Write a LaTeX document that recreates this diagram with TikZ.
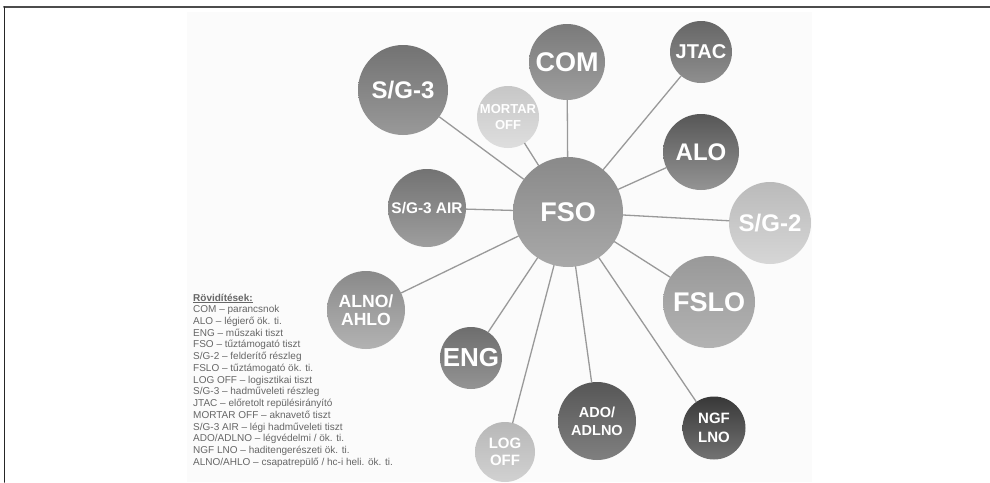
\documentclass[tikz,border=0pt]{standalone}
\usepackage{fontspec}
\setmainfont{Liberation Sans}
\newcommand\bsize[2]{\fontsize{#1pt}{#2pt}\selectfont}
\tikzset{
  bub/.style={circle, inner sep=0pt, text=white, align=center},
  link/.style={draw=black!40, line width=1.3pt},
  leg/.style={inner sep=0pt, text=black!60, font=\bsize{10}{11.7}},
}
\begin{document}
\begin{tikzpicture}[x=1pt,y=-1pt,line cap=round]
  \useasboundingbox (0,0) rectangle (990,482);
  % paper and frame
  \fill[black!1.5] (187,12) rectangle (812,482);
  \draw[black!70,line width=2pt] (4,7)--(990,7);
  \draw[black!85,line width=1.5pt] (4.5,7)--(4.5,482);
  % centre
  \node[bub, minimum size=110, top color=black!46, bottom color=black!34, font=\bfseries\bsize{27}{30}] (fso) at (568,212) {FSO};
  % outer circles
  \node[bub, minimum size=76, top color=black!52, bottom color=black!38, font=\bfseries\bsize{27}{30}] (com) at (567,62) {COM};
  \node[bub, minimum size=90, top color=black!55, bottom color=black!40, font=\bfseries\bsize{24}{27}] (sgiii) at (403,90) {S/G-3};
  \node[bub, minimum size=62, top color=black!22, bottom color=black!13, font=\bfseries\bsize{13}{16}] (mortar) at (508,117) {MORTAR\\OFF};
  \node[bub, minimum size=78, top color=black!55, bottom color=black!38, font=\bfseries\bsize{15.4}{18}] (sgair) at (427,208) {S/G-3 AIR};
  \node[bub, minimum size=62, top color=black!60, bottom color=black!44, font=\bfseries\bsize{20}{23}] (jtac) at (701,52) {JTAC};
  \node[bub, minimum size=76, top color=black!66, bottom color=black!42, font=\bfseries\bsize{24}{27}] (alo) at (701,152) {ALO};
  \node[bub, minimum size=82, top color=black!27, bottom color=black!16, font=\bfseries\bsize{24}{27}] (sgii) at (770,223) {S/G-2};
  \node[bub, minimum size=92, top color=black!40, bottom color=black!30, font=\bfseries\bsize{27}{30}] (fslo) at (709,302) {FSLO};
  \node[bub, minimum size=63, top color=black!78, bottom color=black!55, font=\bfseries\bsize{15}{19}] (ngf) at (714,428) {NGF\\LNO};
  \node[bub, minimum size=78, top color=black!66, bottom color=black!50, font=\bfseries\bsize{14.5}{18}] (ado) at (597,421) {ADO/\\ADLNO};
  \node[bub, minimum size=62, top color=black!57, bottom color=black!42, font=\bfseries\bsize{26}{29}] (eng) at (471,358) {ENG};
  \node[bub, minimum size=60, top color=black!28, bottom color=black!18, font=\bfseries\bsize{15}{17}] (logoff) at (505,452) {LOG\\OFF};
  \node[bub, minimum size=78, top color=black!46, bottom color=black!30, font=\bfseries\bsize{17.6}{18}] (alno) at (366,310) {ALNO/\\AHLO};
  % links
  \foreach \n in {com,sgiii,mortar,sgair,jtac,alo,sgii,fslo,ngf,ado,eng,logoff,alno}
    \draw[link] (fso)--(\n);
  % legend
  \node[leg, anchor=base west, font=\bfseries\bsize{10}{11.7}] (leg0) at (193,301) {\underline{Rövidítések:}};
  \foreach \t [count=\i] in {{COM – parancsnok},{ALO – légierő ök. ti.},{ENG – műszaki tiszt},
      {FSO – tűztámogató tiszt},{S/G-2 – felderítő részleg},{FSLO – tűztámogató ök. ti.},
      {LOG OFF – logisztikai tiszt},{S/G-3 – hadműveleti részleg},{JTAC – előretolt repülésirányító},
      {MORTAR OFF – aknavető tiszt},{S/G-3 AIR – légi hadműveleti tiszt},{ADO/ADLNO – légvédelmi / ök. ti.},
      {NGF LNO – haditengerészeti ök. ti.},{ALNO/AHLO – csapatrepülő / hc-i heli. ök. ti.}}
    \node[leg, anchor=base west] (leg\i) at (193,301+11.73*\i) {\t};
\end{tikzpicture}
\end{document}
